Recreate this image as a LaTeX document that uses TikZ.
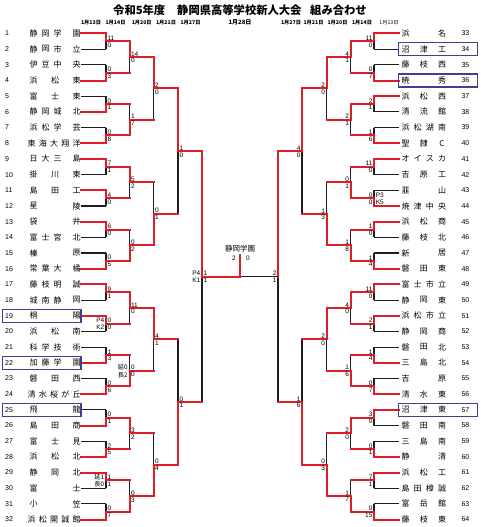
\documentclass[tikz,border=0pt]{standalone}
\usepackage{fontspec}
\setmainfont{Liberation Sans}
\newfontfamily\cjk{Noto Sans CJK JP}
\pgfdeclarelayer{paper}
\pgfdeclarelayer{bg}
\pgfsetlayers{paper,bg,main}
\definecolor{wred}{RGB}{222,30,38}
\definecolor{lblk}{RGB}{30,30,30}
\definecolor{bxc}{RGB}{62,64,150}
\tikzset{
 wl/.style={draw=wred, line width=2pt, line cap=rect},
 bkL/.style={draw=lblk, line width=1.1pt},
 bkR/.style={draw=lblk, line width=1.9pt},
 sc/.style={inner sep=0pt, font=\fontsize{6.5}{7}\selectfont},
 scj/.style={inner sep=0pt, font=\cjk\fontsize{6.3}{7}\selectfont},
 nm/.style={inner sep=0pt, font=\cjk\fontsize{8}{9}\selectfont},
 num/.style={inner sep=0pt, font=\fontsize{7}{8}\selectfont},
 bx/.style={draw=bxc, line width=1.3pt, inner sep=0pt},
 dt/.style={inner sep=0pt, font=\cjk\bfseries\fontsize{5.2}{6}\selectfont},
 dtn/.style={inner sep=0pt, font=\cjk\fontsize{5.2}{6}\selectfont},
 ttl/.style={inner sep=0pt, anchor=west, font=\cjk\bfseries\fontsize{11.3}{13}\selectfont},
}
\newcommand\xl[1]{\ifcase#1\or106\or129.5\or153.5\or178\or202\or240\fi}
% match: side, round, index, winner(1 top/2 bottom), top score, bottom score, out style, black style
\newcommand\bm[8]{%
  \if#1L\def\sg{1}\def\ha{west}\else\def\sg{-1}\def\ha{east}\fi
  \pgfmathtruncatemacro\rn{#2+1}%
  \pgfmathtruncatemacro\rp{#2-1}%
  \pgfmathtruncatemacro\kt{2*#3-1}%
  \pgfmathtruncatemacro\kb{2*#3}%
  \edef\xa{\xl{#2}}\edef\xb{\xl{\rn}}%
  \pgfmathsetmacro\xv{240+\sg*(\xa-240)}%
  \pgfmathsetmacro\xn{240+\sg*(\xb-240)}%
  \pgfmathsetmacro\yt{33.5+15.68*((\kt-1)*2^\rp+(2^\rp-1)/2)}%
  \pgfmathsetmacro\yb{33.5+15.68*((\kb-1)*2^\rp+(2^\rp-1)/2)}%
  \pgfmathsetmacro\ym{(\yt+\yb)/2}%
  \pgfmathsetmacro\xs{\xv+\sg*1.4}%
  \coordinate (#1#2-#3t) at (\xv,\yt);
  \coordinate (#1#2-#3b) at (\xv,\yb);
  \coordinate (#1#2-#3) at (\xv,\ym);
  \coordinate (#1#2-#3o) at (\xn,\ym);
  \begin{pgfonlayer}{bg}\draw[#8] (#1#2-#3t) -- (#1#2-#3b);\end{pgfonlayer}
  \ifnum#4=1 \draw[wl] (#1#2-#3t) -- (#1#2-#3);\else\draw[wl] (#1#2-#3) -- (#1#2-#3b);\fi
  \draw[#7] (#1#2-#3) -- (#1#2-#3o);
  \node[sc,anchor=south \ha] (#1#2-#3st) at (\xs,\ym-0.6) {#5};
  \node[sc,anchor=north \ha] (#1#2-#3sb) at (\xs,\ym+1.2) {#6};
}
% team: side, number, nchars, chars, won first round
\newcommand\team[5]{%
  \if#1L\def\sg{1}\pgfmathtruncatemacro\rw{#2}\else\def\sg{-1}\pgfmathtruncatemacro\rw{#2-32}\fi
  \pgfmathsetmacro\ty{33.5+15.68*(\rw-1)}%
  \pgfmathsetmacro\xa{240+\sg*(81-240)}%
  \pgfmathsetmacro\xb{240+\sg*(106-240)}%
  \coordinate (e#2) at (\xa,\ty);
  \coordinate (v#2) at (\xb,\ty);
  \ifnum#5=1 \draw[wl] (e#2) -- (v#2);\else\begin{pgfonlayer}{bg}\draw[bkL] (e#2) -- (v#2);\end{pgfonlayer}\fi
  \if#1L
    \ifcase#3\or\or\def\chS{33.5}\def\chD{43}\or\def\chS{33.5}\def\chD{21.5}\or\def\chS{33.5}\def\chD{12}\or\def\chS{31.5}\def\chD{11.25}\fi
    \ifnum#3=4 \def\chE{7}\else\def\chE{0}\fi
    \node[num,anchor=west] (no#2) at (5,\ty) {#2};
  \else
    \ifcase#3\or\or\def\chS{405.5}\def\chD{36.5}\or\def\chS{405.5}\def\chD{18.25}\or\def\chS{405.5}\def\chD{12.17}\fi
    \def\chE{0}
    \node[num,anchor=west] (no#2) at (461.4,\ty) {#2};
  \fi
  \foreach \c [count=\i] in {#4} {
    \pgfmathsetmacro\cx{\chS+(\i-1)*\chD+(\i==4)*\chE}
    \node[nm] (n#2-\i) at (\cx,\ty) {\c};
  }
}
\begin{document}
\begin{tikzpicture}[x=1pt,y=-1pt]
\begin{pgfonlayer}{paper}
\fill[white] (0,0) rectangle (480,527);
\end{pgfonlayer}
\useasboundingbox (0,0) rectangle (480,527);

% title and dates
\node[ttl] (t1) at (113,10) {令和5年度};
\node[ttl] (t2) at (177,10) {静岡県高等学校新人大会};
\node[ttl] (t3) at (310,10) {組み合わせ};
\node[dt] (d1) at (91,22.5) {1月13日};
\node[dt] (d2) at (115.5,22.5) {1月14日};
\node[dt] (d3) at (141.7,22.5) {1月20日};
\node[dt] (d4) at (166,22.5) {1月21日};
\node[dt] (d5) at (190.5,22.5) {1月27日};
\node[dt,font=\cjk\bfseries\fontsize{6}{7}\selectfont] (d6) at (240,22.5) {1月28日};
\node[dt] (d7) at (291,22.5) {1月27日};
\node[dt] (d8) at (313.5,22.5) {1月21日};
\node[dt] (d9) at (337.5,22.5) {1月20日};
\node[dt] (d10) at (362,22.5) {1月14日};
\node[dtn] (d11) at (389,22.5) {1月13日};

% teams left
\team{L}{1}{4}{静,岡,学,園}{1}
\team{L}{2}{4}{静,岡,市,立}{0}
\team{L}{3}{4}{伊,豆,中,央}{0}
\team{L}{4}{3}{浜,松,東}{1}
\team{L}{5}{3}{富,士,東}{0}
\team{L}{6}{4}{静,岡,城,北}{1}
\team{L}{7}{4}{浜,松,学,芸}{0}
\team{L}{8}{5}{東,海,大,翔,洋}{1}
\team{L}{9}{4}{日,大,三,島}{1}
\team{L}{10}{3}{掛,川,東}{0}
\team{L}{11}{3}{島,田,工}{1}
\team{L}{12}{2}{星,陵}{0}
\team{L}{13}{2}{袋,井}{1}
\team{L}{14}{4}{富,士,宮,北}{0}
\team{L}{15}{2}{榛,原}{0}
\team{L}{16}{4}{常,葉,大,橘}{1}
\team{L}{17}{4}{藤,枝,明,誠}{1}
\team{L}{18}{4}{城,南,静,岡}{0}
\team{L}{19}{2}{桐,陽}{1}
\team{L}{20}{3}{浜,松,南}{0}
\team{L}{21}{4}{科,学,技,術}{0}
\team{L}{22}{4}{加,藤,学,園}{1}
\team{L}{23}{3}{磐,田,西}{0}
\team{L}{24}{5}{清,水,桜,が,丘}{1}
\team{L}{25}{2}{飛,龍}{0}
\team{L}{26}{3}{島,田,商}{1}
\team{L}{27}{3}{富,士,見}{0}
\team{L}{28}{3}{浜,松,北}{1}
\team{L}{29}{3}{静,岡,北}{1}
\team{L}{30}{2}{富,士}{0}
\team{L}{31}{2}{小,笠}{0}
\team{L}{32}{5}{浜,松,開,誠,館}{1}
% teams right
\team{R}{33}{2}{浜,名}{1}
\team{R}{34}{3}{沼,津,工}{0}
\team{R}{35}{3}{藤,枝,西}{0}
\team{R}{36}{2}{暁,秀}{1}
\team{R}{37}{3}{浜,松,西}{1}
\team{R}{38}{3}{清,流,館}{0}
\team{R}{39}{4}{浜,松,湖,南}{0}
\team{R}{40}{3}{聖,隷,C}{1}
\team{R}{41}{4}{オ,イ,ス,カ}{1}
\team{R}{42}{3}{吉,原,工}{0}
\team{R}{43}{2}{韮,山}{0}
\team{R}{44}{4}{焼,津,中,央}{1}
\team{R}{45}{3}{浜,松,商}{1}
\team{R}{46}{3}{藤,枝,北}{0}
\team{R}{47}{2}{新,居}{0}
\team{R}{48}{3}{磐,田,東}{1}
\team{R}{49}{4}{富,士,市,立}{1}
\team{R}{50}{3}{静,岡,東}{0}
\team{R}{51}{4}{浜,松,市,立}{1}
\team{R}{52}{3}{静,岡,商}{0}
\team{R}{53}{3}{磐,田,北}{0}
\team{R}{54}{3}{三,島,北}{1}
\team{R}{55}{2}{吉,原}{0}
\team{R}{56}{3}{清,水,東}{1}
\team{R}{57}{3}{沼,津,東}{1}
\team{R}{58}{3}{磐,田,南}{0}
\team{R}{59}{3}{三,島,南}{0}
\team{R}{60}{2}{静,清}{1}
\team{R}{61}{3}{浜,松,工}{1}
\team{R}{62}{4}{島,田,樟,誠}{0}
\team{R}{63}{3}{富,岳,館}{0}
\team{R}{64}{3}{藤,枝,東}{1}

% boxes
\node[bx,minimum width=78.3pt,minimum height=13pt] (bx19) at (41.85,315.74) {};
\node[bx,minimum width=78.3pt,minimum height=13pt] (bx22) at (41.85,362.78) {};
\node[bx,minimum width=78.3pt,minimum height=13pt] (bx25) at (41.85,409.82) {};
\node[bx,minimum width=79pt,minimum height=13pt] (bx34) at (438,49.18) {};
\node[bx,minimum width=79pt,minimum height=13pt] (bx36) at (438,80.54) {};
\node[bx,minimum width=79pt,minimum height=13pt] (bx57) at (438,409.82) {};

% left matches
\foreach \k/\w/\a/\b in {1/1/11/0,2/2/0/3,3/2/0/1,4/2/0/8,5/1/7/1,6/1/4/0,7/1/6/0,8/2/0/5,9/1/9/1,10/1/0/0,11/2/1/3,12/2/0/6,13/2/0/1,14/2/2/5,15/1/1/1,16/2/0/7}
  {\bm{L}{1}{\k}{\w}{\a}{\b}{wl}{bkL}}
\foreach \k/\w/\a/\b in {1/1/14/0,2/2/1/7,3/1/5/2,4/2/0/2,5/1/11/0,6/2/0/0,7/1/3/2,8/2/0/3}
  {\bm{L}{2}{\k}{\w}{\a}{\b}{wl}{bkL}}
\foreach \k/\w/\a/\b in {1/1/2/0,2/2/0/1,3/1/4/1,4/2/0/4}
  {\bm{L}{3}{\k}{\w}{\a}{\b}{wl}{bkL}}
\foreach \k/\w/\a/\b in {1/1/1/0,2/2/0/1}
  {\bm{L}{4}{\k}{\w}{\a}{\b}{wl}{bkL}}
% right matches
\foreach \k/\w/\a/\b in {1/1/11/0,2/2/0/7,3/1/2/1,4/2/1/6,5/1/11/0,6/2/0/0,7/1/1/0,8/2/1/4,9/1/11/0,10/1/2/1,11/2/1/4,12/2/0/7,13/1/3/0,14/2/0/1,15/1/7/1,16/2/0/15}
  {\bm{R}{1}{\k}{\w}{\a}{\b}{wl}{bkL}}
\foreach \k/\w/\a/\b in {1/1/4/1,2/1/2/1,3/2/0/1,4/2/1/8,5/1/4/0,6/2/1/6,7/1/2/0,8/2/1/7}
  {\bm{R}{2}{\k}{\w}{\a}{\b}{wl}{bkR}}
\foreach \k/\w/\a/\b in {1/1/2/0,2/2/1/3,3/1/2/0,4/2/0/3}
  {\bm{R}{3}{\k}{\w}{\a}{\b}{wl}{bkR}}
\foreach \k/\w/\a/\b in {1/1/4/0,2/2/1/6}
  {\bm{R}{4}{\k}{\w}{\a}{\b}{wl}{bkR}}
% semifinals
\bm{R}{5}{1}{1}{2}{1}{bkR}{bkR}
\bm{L}{5}{1}{1}{1}{1}{wl}{bkL}

% final
\coordinate (Ftop) at (240,255);
\draw[wl] (L5-1o) -- (Ftop);
\node[inner sep=0pt,font=\cjk\fontsize{7.5}{8}\selectfont] (champ) at (240,248.5) {静岡学園};
\node[sc] (fs1) at (234,258.5) {2};
\node[sc] (fs2) at (248,258.5) {0};

% extra annotations
\node[sc,anchor=south east] (a1) at ([xshift=-1.6pt,yshift=0.6pt]L1-10) {P4};
\node[sc,anchor=north east] (a2) at ([xshift=-1.6pt,yshift=-1.2pt]L1-10) {K2};
\node[scj,anchor=south east] (a3) at ([xshift=-1.6pt,yshift=0.6pt]L1-15) {延1};
\node[scj,anchor=north east] (a4) at ([xshift=-1.6pt,yshift=-1.2pt]L1-15) {長0};
\node[scj,anchor=south east] (a5) at ([xshift=-1.6pt,yshift=0.6pt]L2-6) {延0};
\node[scj,anchor=north east] (a6) at ([xshift=-1.6pt,yshift=-1.2pt]L2-6) {長2};
\node[sc,anchor=south east] (a7) at ([xshift=-1.6pt,yshift=0.6pt]L5-1) {P4};
\node[sc,anchor=north east] (a8) at ([xshift=-1.6pt,yshift=-1.2pt]L5-1) {K1};
\node[sc,anchor=south west] (a9) at ([xshift=1.6pt,yshift=0.6pt]R1-6) {P3};
\node[sc,anchor=north west] (a10) at ([xshift=1.6pt,yshift=-1.2pt]R1-6) {K5};
\end{tikzpicture}
\end{document}
